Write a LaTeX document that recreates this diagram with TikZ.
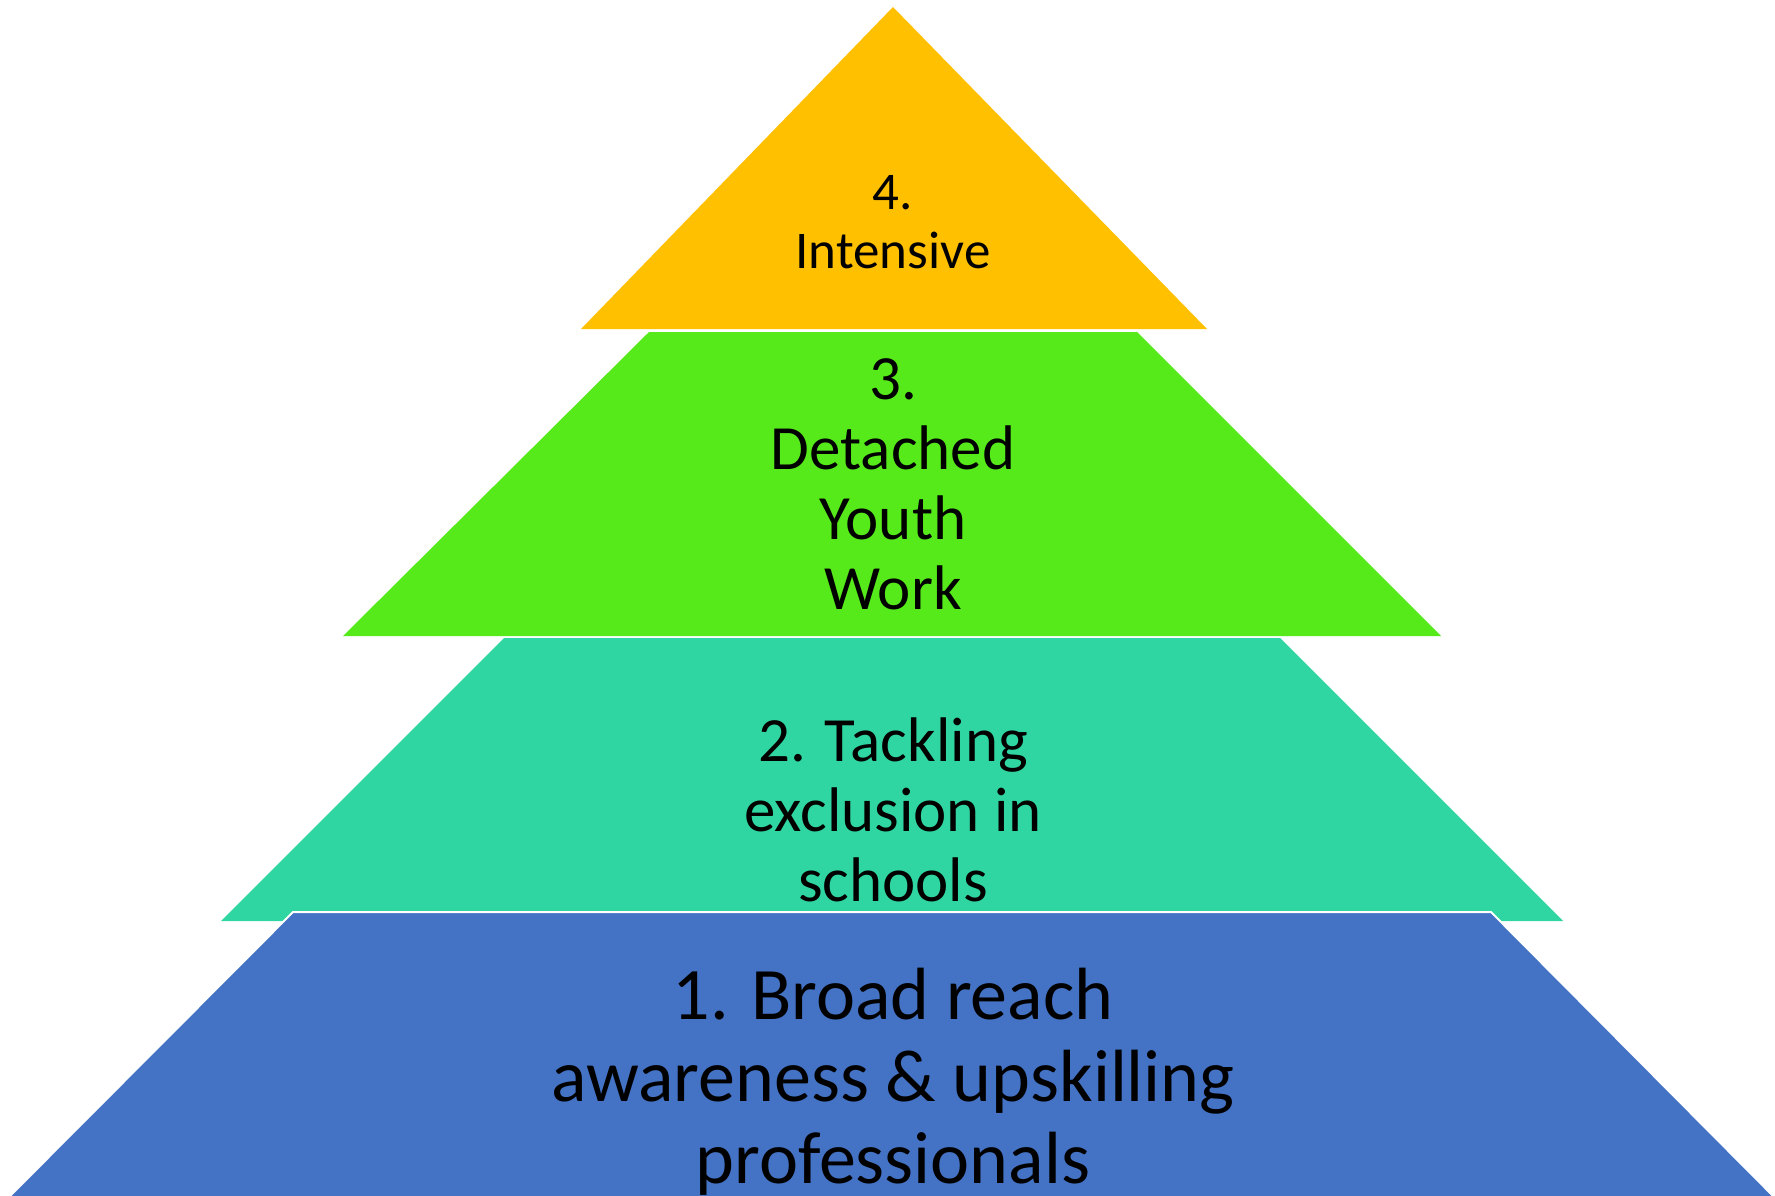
\documentclass[tikz,border=0pt]{standalone}
\usepackage{fontspec}
\setmainfont{Carlito}
\definecolor{cyellow}{HTML}{FFC000}
\definecolor{cgreen}{HTML}{56EA1B}
\definecolor{cteal}{HTML}{2FD6A1}
\definecolor{cblue}{HTML}{4472C4}
\tikzset{
  tier/.style={draw=white, line width=2pt, line join=miter},
  lbl/.style={align=center, inner sep=0pt, anchor=base, text=black},
}
\begin{document}
\begin{tikzpicture}[x=1pt,y=-1pt]
\useasboundingbox (0,0) rectangle (1775,1195);
\fill[white] (0,0) rectangle (1775,1195);
% tier 4
\fill[cyellow] (893,7) -- (1207,329) -- (581,329) -- cycle;
% tier 3
\fill[cgreen] (649,332) -- (1137,332) -- (1441,636) -- (343,636) -- cycle;
% tier 2
\fill[cteal] (504,638) -- (1280,638) -- (1563,921) -- (221,921) -- cycle;
% tier 1
\filldraw[tier, fill=cblue] (293,912) -- (1491,912) -- (1789,1212) -- (-6,1212) -- cycle;
% labels (anchor base = baseline of last line)
\node[lbl, font=\fontsize{53}{59}\selectfont] (t4) at (893,268) {4.\\Intensive};
\node[lbl, font=\fontsize{63}{70}\selectfont] (t3) at (893,609) {3.\\Detached\\Youth\\Work};
\node[lbl, font=\fontsize{63}{70}\selectfont] (t2) at (893,901) {2. Tackling\\exclusion in\\schools};
\node[lbl, font=\fontsize{74}{82}\selectfont] (t1) at (893,1183) {1. Broad reach\\awareness \& upskilling\\professionals};
\end{tikzpicture}
\end{document}
